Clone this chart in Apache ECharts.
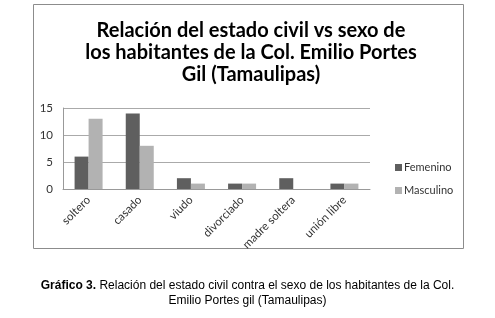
<!DOCTYPE html>
<html>
<head>
<meta charset="utf-8">
<script src="https://cdn.jsdelivr.net/npm/echarts@6/dist/echarts.min.js"></script>
<style>
  html, body { margin: 0; padding: 0; background: #fff; }
  #chart { width: 495px; height: 318px; }
</style>
</head>
<body>
<div id="chart"></div>
<script>
// datos del gráfico
let categorias = ['soltero', 'casado', 'viudo', 'divorciado', 'madre soltera', 'unión libre'];
let femenino = [6, 14, 2, 1, 2, 1];
let masculino = [13, 8, 1, 1, 0, 1];
let yTicks = [0, 5, 10, 15];

let chart = echarts.init(document.getElementById('chart'));
let option = {
  backgroundColor: '#fff',
  animation: false,
  title: {
    text: 'Relación del estado civil vs sexo de\nlos habitantes de la Col. Emilio Portes\nGil (Tamaulipas)',
    left: 246,
    top: 15,
    textAlign: 'center',
    textStyle: {
      fontFamily: 'Lato',
      fontWeight: 'bold',
      fontSize: 20,
      lineHeight: 22,
      color: '#000'
    }
  },
  legend: {
    orient: 'vertical',
    left: 390,
    top: 157,
    itemWidth: 7,
    itemHeight: 7,
    itemGap: 12,
    icon: 'rect',
    textStyle: { fontFamily: 'Lato', fontSize: 11, color: '#333', padding: [0, 0, 0, -3] },
    data: ['Femenino', 'Masculino']
  },
  grid: {
    left: 63,
    right: 495 - 370,
    top: 108,
    bottom: 318 - 189,
    containLabel: false
  },
  xAxis: {
    type: 'category',
    data: categorias,
    axisLine: { lineStyle: { color: '#999', width: 1 } },
    axisTick: { show: false },
    axisLabel: {
      rotate: 45,
      interval: 0,
      margin: 9,
      fontFamily: 'Lato',
      fontSize: 11.5,
      color: '#333'
    }
  },
  yAxis: {
    type: 'value',
    min: yTicks[0],
    max: yTicks[yTicks.length - 1],
    interval: 5,
    axisLine: { show: true, lineStyle: { color: '#999', width: 1 } },
    axisTick: { show: false },
    axisLabel: { fontFamily: 'Lato', fontSize: 11.5, color: '#333', margin: 10 },
    splitLine: { lineStyle: { color: '#aaa', width: 1 } }
  },
  series: [
    {
      name: 'Femenino',
      type: 'bar',
      data: femenino,
      barWidth: 14,
      barGap: '0%',
      itemStyle: { color: '#5f5f5f' }
    },
    {
      name: 'Masculino',
      type: 'bar',
      data: masculino,
      barWidth: 14,
      itemStyle: { color: '#b2b2b2' }
    }
  ],
  graphic: [
    // marco del gráfico
    {
      type: 'rect',
      shape: { x: 33.5, y: 4.5, width: 430, height: 244 },
      style: { fill: null, stroke: '#8c8c8c', lineWidth: 1 },
      z: -1
    },
    // pie de figura - línea 1
    {
      type: 'text',
      left: 'center',
      top: 280,
      style: {
        text: '{b|Gráfico 3.} Relación del estado civil contra el sexo de los habitantes de la Col.',
        fontFamily: 'Liberation Sans',
        fontSize: 12,
        fill: '#000',
        rich: {
          b: { fontFamily: 'Liberation Sans', fontSize: 12, fontWeight: 'bold', fill: '#000' }
        }
      }
    },
    // pie de figura - línea 2
    {
      type: 'text',
      left: 'center',
      top: 295,
      style: {
        text: 'Emilio Portes gil (Tamaulipas)',
        fontFamily: 'Liberation Sans',
        fontSize: 12,
        fill: '#000'
      }
    }
  ]
};
chart.setOption(option);
</script>
</body>
</html>
